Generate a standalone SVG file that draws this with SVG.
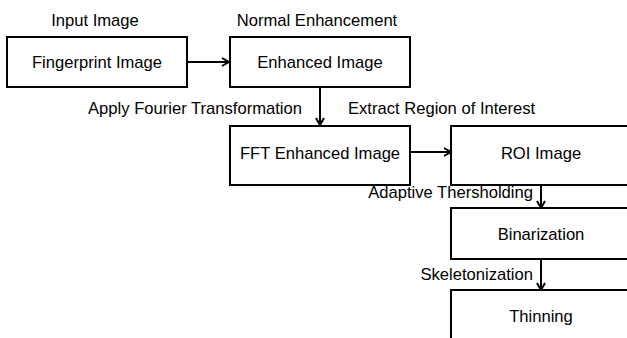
<svg xmlns="http://www.w3.org/2000/svg" width="627" height="338" viewBox="0 0 627 338">
  <defs>
    <marker id="arrow" viewBox="0 0 10 10" refX="9" refY="5" markerWidth="10" markerHeight="10" markerUnits="userSpaceOnUse" orient="auto">
      <polyline points="2,1 9,5 2,9" fill="none" stroke="#000" stroke-width="2"/>
    </marker>
    <style>
      .box { fill: #fff; stroke: #000; stroke-width: 2; }
      .t { font-family: "Liberation Sans", Arial, sans-serif; font-size: 16.6px; fill: #000; }
      .c { text-anchor: middle; }
      .e { text-anchor: end; }
      .link { fill: none; stroke: #000; stroke-width: 2; marker-end: url(#arrow); }
    </style>
  </defs>
  <rect width="627" height="338" fill="#fff"/>

  <g id="connectors">
    <line class="link" x1="188" y1="62" x2="229" y2="62"/>
    <line class="link" x1="320" y1="87" x2="320" y2="125"/>
    <line class="link" x1="410" y1="152" x2="451" y2="152"/>
    <line class="link" x1="541" y1="185" x2="541" y2="208"/>
    <line class="link" x1="541" y1="259" x2="541" y2="290"/>
  </g>

  <g id="labels">
    <text class="t c" x="95" y="26">Input Image</text>
    <text class="t c" x="317" y="26">Normal Enhancement</text>
    <text class="t e" x="302" y="114">Apply Fourier Transformation</text>
    <text class="t" x="348" y="114">Extract Region of Interest</text>
    <text class="t e" x="533" y="198">Adaptive Thersholding</text>
    <text class="t e" x="533" y="280">Skeletonization</text>
  </g>

  <g id="fingerprint">
    <rect class="box" x="7" y="37" width="180" height="50"/>
    <text class="t c" x="97" y="68">Fingerprint Image</text>
  </g>
  <g id="enhanced">
    <rect class="box" x="230" y="37" width="180" height="50"/>
    <text class="t c" x="320" y="68">Enhanced Image</text>
  </g>
  <g id="fft">
    <rect class="box" x="230" y="126" width="180" height="59"/>
    <text class="t c" x="320" y="159">FFT Enhanced Image</text>
  </g>
  <g id="roi">
    <rect class="box" x="451" y="126" width="180" height="59"/>
    <text class="t c" x="541" y="159">ROI Image</text>
  </g>
  <g id="binarization">
    <rect class="box" x="451" y="208" width="180" height="51"/>
    <text class="t c" x="541" y="240">Binarization</text>
  </g>
  <g id="thinning">
    <rect class="box" x="451" y="290" width="180" height="60"/>
    <text class="t c" x="541" y="322">Thinning</text>
  </g>
</svg>
